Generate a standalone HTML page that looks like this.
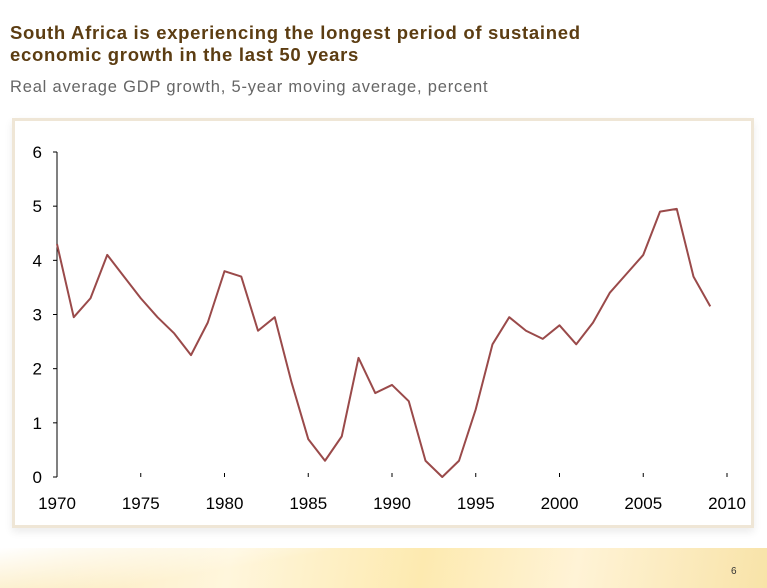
<!DOCTYPE html>
<html><head><meta charset="utf-8"><style>
body{margin:0;width:767px;height:588px;overflow:hidden;background:#fff;font-family:"Liberation Sans",sans-serif;position:relative}
#title{position:absolute;left:10px;top:22px;font-size:18.5px;font-weight:bold;color:#5c3d12;line-height:22px;letter-spacing:0.7px}
#sub{position:absolute;left:10px;top:78px;font-size:16.5px;color:#666;letter-spacing:0.8px}
#frame{position:absolute;left:12px;top:118px;width:736px;height:404px;border:3px solid #efe6d6;box-shadow:0 4px 8px rgba(0,0,0,0.08)}
#band{position:absolute;left:0;top:548px;width:767px;height:40px;background:linear-gradient(170deg,#fff 0%,rgba(255,255,255,0) 35%),linear-gradient(100deg,#fbe9b8 0%,#fff6dc 30%,#fdeab0 55%,#fff3d6 75%,#f8e3a8 100%)}
#pg{position:absolute;left:731px;top:566px;font-size:10px;color:#333}
</style></head><body>
<div id="title">South Africa is experiencing the longest period of sustained<br>economic growth in the last 50 years</div>
<div id="sub">Real average GDP growth, 5-year moving average, percent</div>
<div id="frame"></div>
<div id="band"></div>
<div id="pg">6</div>
<svg id="chart" width="767" height="588" style="position:absolute;left:0;top:0"></svg>
<script>
const years=[1970,1971,1972,1973,1974,1975,1976,1977,1978,1979,1980,1981,1982,1983,1984,1985,1986,1987,1988,1989,1990,1991,1992,1993,1994,1995,1996,1997,1998,1999,2000,2001,2002,2003,2004,2005,2006,2007,2008,2009];
const growth=[4.3,2.95,3.3,4.1,3.7,3.3,2.95,2.65,2.25,2.85,3.8,3.7,2.7,2.95,1.75,0.7,0.3,0.75,2.2,1.55,1.7,1.4,0.3,0.0,0.3,1.25,2.45,2.95,2.7,2.55,2.8,2.45,2.85,3.4,3.75,4.1,4.9,4.95,3.7,3.15];
const xTicks=[1970,1975,1980,1985,1990,1995,2000,2005,2010];
const yTicks=[0,1,2,3,4,5,6];
const svg=document.getElementById('chart');
const NS='http://www.w3.org/2000/svg';
const x=v=>57+(v-1970)*(727-57)/40;
const y=v=>477-v*(477-152)/6;
function mk(t,a){const e=document.createElementNS(NS,t);for(const k in a)e.setAttribute(k,a[k]);svg.appendChild(e);return e;}
const ax=mk('line',{x1:57,y1:y(6),x2:57,y2:y(0),stroke:'#000','stroke-width':1});


yTicks.forEach(v=>{
 const t=mk('line',{x1:53,y1:y(v),x2:57,y2:y(v),stroke:'#000'});
 
 
 const l=mk('text',{x:42,y:y(v)+6,'font-size':17,'font-family':'Liberation Sans, sans-serif',fill:'#000','text-anchor':'end'});
 l.textContent=v;
 
 
});
xTicks.forEach(v=>{
 const t=mk('line',{x1:x(v),y1:473,x2:x(v),y2:477,stroke:'#000'});
 
 
 const l=mk('text',{x:x(v),y:509,'font-size':17,'font-family':'Liberation Sans, sans-serif',fill:'#000','text-anchor':'middle'});
 l.textContent=v;
 
 
});
const pts=years.map((yr,i)=>x(yr)+','+y(growth[i])).join(' ');
const pl=mk('polyline',{points:pts,fill:'none',stroke:'#9a4a4a','stroke-width':2,'stroke-linejoin':'round'});


</script>
</body></html>
